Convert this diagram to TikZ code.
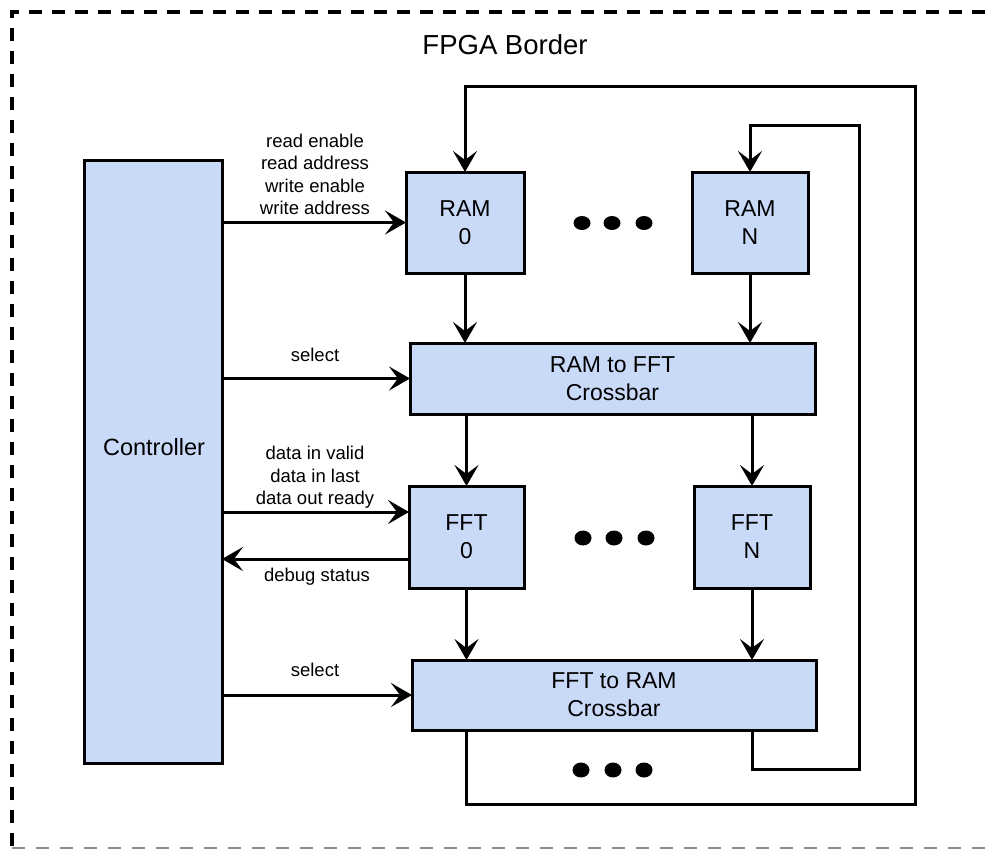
\documentclass[tikz,border=0pt]{standalone}
\usepackage{fontspec}
\setmainfont{Liberation Sans}
\usetikzlibrary{arrows.meta}
\definecolor{boxblue}{RGB}{201,218,248}
\begin{document}
\begin{tikzpicture}[x=1pt,y=-1pt,
  box/.style={draw=black, fill=boxblue, line width=3pt, inner sep=0pt, outer sep=0pt,
    align=center, font=\fontsize{23}{28}\selectfont},
  wire/.style={line width=3pt},
  arr/.style={wire, -{Stealth[length=21pt,width=24pt,inset=9pt]}},
  lbl/.style={font=\fontsize{18.5}{22.6}\selectfont, align=center, inner sep=0pt,
    anchor=south, text depth=0pt},
  dotmark/.style={fill=black}]
\useasboundingbox (0,0) rectangle (992,849);

% FPGA border
\draw[line width=3.5pt, dash pattern=on 13pt off 10pt] (12,846) -- (12,12) -- (992,12);
\draw[black!45, line width=2pt, dash pattern=on 13pt off 11pt] (12,848) -- (992,848);
\node[font=\fontsize{27.5}{33}\selectfont, anchor=base, inner sep=0pt] (title) at (505,54) {FPGA Border};

% boxes
\node[box, minimum width=138pt, minimum height=603pt] (ctrl) at (153,461.5) {};
\node[font=\fontsize{23.5}{28}\selectfont, anchor=base, inner sep=0pt] (ctrltext) at (154,455) {Controller};
\node[box, minimum width=118pt, minimum height=101pt] (ram0) at (465,222.5) {RAM\\0};
\node[box, minimum width=116pt, minimum height=101pt] (ramN) at (750,222.5) {RAM\\N};
\node[box, minimum width=405pt, minimum height=71pt] (xbar1) at (612.5,378.5) {RAM to FFT\\Crossbar};
\node[box, minimum width=115pt, minimum height=102pt] (fft0) at (466.5,537) {FFT\\0};
\node[box, minimum width=116pt, minimum height=102pt] (fftN) at (752,537) {FFT\\N};
\node[box, minimum width=404pt, minimum height=70pt] (xbar2) at (614,695) {FFT to RAM\\Crossbar};

% ellipsis dots
\foreach \x in {582,612,644} \fill[dotmark] (\x,223) ellipse [x radius=8.5pt, y radius=7pt];
\foreach \x in {583,614,646} \fill[dotmark] (\x,538) ellipse [x radius=8.5pt, y radius=7.5pt];
\foreach \x in {581,613,644} \fill[dotmark] (\x,770) ellipse [x radius=8.5pt, y radius=7.5pt];

% control signals
\draw[arr] (ctrl.east |- ram0.west) -- (ram0.west);
\node[lbl] (l1) at (315,215) {read enable\\read address\\write enable\\write address};
\draw[arr] (ctrl.east |- xbar1.west) -- (xbar1.west);
\node[lbl] (l2) at (315,362) {select};
\draw[arr] (ctrl.east |- 0,512) -- (fft0.west |- 0,512);
\node[lbl] (l3) at (315,505) {data in valid\\data in last\\data out ready};
\draw[arr] (fft0.west |- 0,559) -- (ctrl.east |- 0,559);
\node[lbl, anchor=base] (l4) at (317,581) {debug status};
\draw[arr] (ctrl.east |- xbar2.west) -- (xbar2.west);
\node[lbl] (l5) at (315,677) {select};

% data path
\draw[arr] (ram0.south) -- (ram0.south |- xbar1.north);
\draw[arr] (ramN.south) -- (ramN.south |- xbar1.north);
\draw[arr] (xbar1.south -| fft0.north) -- (fft0.north);
\draw[arr] (xbar1.south -| fftN.north) -- (fftN.north);
\draw[arr] (fft0.south) -- (fft0.south |- xbar2.north);
\draw[arr] (fftN.south) -- (fftN.south |- xbar2.north);

% feedback loops
\coordinate (oBR) at (915,804);
\coordinate (oTR) at (915,86);
\coordinate (iBR) at (859,769);
\coordinate (iTR) at (859,125);
\draw[arr] (xbar2.south -| fft0.south) |- (oBR) -- (oTR) -| (ram0.north);
\draw[arr] (xbar2.south -| fftN.south) |- (iBR) -- (iTR) -| (ramN.north);
\end{tikzpicture}
\end{document}
